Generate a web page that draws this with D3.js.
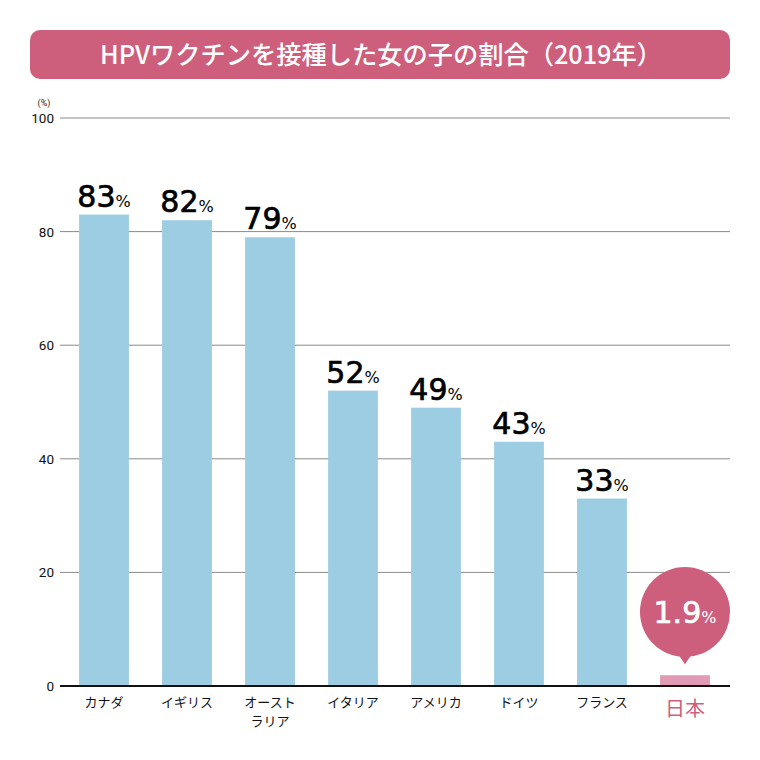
<!DOCTYPE html>
<html>
<head>
<meta charset="utf-8">
<script src="https://cdn.jsdelivr.net/npm/d3@7"></script>
<style>
body { margin: 0; background: #fff; }
</style>
</head>
<body>
<div id="chart-area"></div>
<script>
// data
var countries = ["カナダ", "イギリス", "オースト\nラリア", "イタリア", "アメリカ", "ドイツ", "フランス", "日本"];
var rates = [83, 82, 79, 52, 49, 43, 33, 1.9];
var yTicks = [0, 20, 40, 60, 80, 100];
var titleText = "HPVワクチンを接種した女の子の割合（2019年）";

var W = 760, H = 760;
var pink = "#cd5f7d";
var jpFont = "'Noto Sans CJK JP', 'Noto Sans', sans-serif";
var numFont = "'DejaVu Sans', 'Liberation Sans', sans-serif";
var tickFont = "Roboto, 'Liberation Sans', sans-serif";

var svg = d3.select("#chart-area")
	.append("svg")
		.attr("width", W)
		.attr("height", H)
		.style("font-family", jpFont);

// title banner
svg.append("rect")
	.attr("x", 30).attr("y", 30)
	.attr("width", 700).attr("height", 49)
	.attr("rx", 10)
	.attr("fill", pink);

svg.append("text")
	.attr("x", 381).attr("y", 64)
	.attr("text-anchor", "middle")
	.attr("fill", "#fff")
	.attr("font-size", "25.5px")
	.attr("font-weight", 500)
	.attr("textLength", 562)
	.attr("lengthAdjust", "spacingAndGlyphs")
	.text(titleText);

var x = d3.scaleBand()
	.domain(countries)
	.range([62.5, 726.5])
	.paddingInner(0.4)
	.paddingOuter(0.2);

var y = d3.scaleLinear()
	.domain([0, 100])
	.range([686, 118]);

// grid lines
svg.selectAll(".grid")
	.data(yTicks.filter(function(d){ return d > 0; }))
	.enter().append("line")
		.attr("x1", 60).attr("x2", 730)
		.attr("y1", function(d){ return y(d); })
		.attr("y2", function(d){ return y(d); })
		.attr("stroke", "#8a8a8a")
		.attr("stroke-width", 1);

// y tick labels
svg.selectAll(".ytick")
	.data(yTicks)
	.enter().append("text")
		.attr("x", 54)
		.attr("y", function(d){ return y(d) + 5; })
		.attr("text-anchor", "end")
		.attr("font-size", "13.5px")
		.attr("fill", "#111")
		.style("font-family", tickFont)
		.text(function(d){ return d; });

svg.append("text")
	.attr("x", 44).attr("y", 106)
	.attr("text-anchor", "middle")
	.attr("font-size", "9px")
	.attr("fill", "#222")
	.style("font-family", tickFont)
	.text("(%)");

// bars
svg.selectAll(".bar")
	.data(rates)
	.enter().append("rect")
		.attr("x", function(d, i){ return x(countries[i]); })
		.attr("y", function(d){ return y(d); })
		.attr("width", x.bandwidth())
		.attr("height", function(d){ return y(0) - y(d); })
		.attr("fill", function(d, i){ return i == countries.length - 1 ? "#e09ab3" : "#9dcde2"; });

// baseline
svg.append("line")
	.attr("x1", 60).attr("x2", 730)
	.attr("y1", y(0)).attr("y2", y(0))
	.attr("stroke", "#111")
	.attr("stroke-width", 2);

// value labels (all except Japan)
var labels = svg.selectAll(".val")
	.data(rates.slice(0, rates.length - 1))
	.enter().append("text")
		.attr("x", function(d, i){ return x(countries[i]) + x.bandwidth() / 2; })
		.attr("y", function(d){ return y(d) - 8; })
		.attr("text-anchor", "middle")
		.attr("fill", "#000")
		.style("font-family", numFont);

labels.append("tspan")
	.attr("font-size", "30px")
	.attr("stroke", "#000")
	.attr("stroke-width", 0.7)
	.text(function(d){ return d; });
labels.append("tspan")
	.attr("font-size", "16px")
	.text("%");

// category labels
countries.forEach(function(c, i){
	var isJapan = i == countries.length - 1;
	var lines = c.split("\n");
	var t = svg.append("text")
		.attr("x", x(c) + x.bandwidth() / 2)
		.attr("y", isJapan ? 716 : 707)
		.attr("text-anchor", "middle")
		.attr("font-size", isJapan ? "20px" : "13px")
		.attr("fill", isJapan ? pink : "#111");
	lines.forEach(function(l, j){
		t.append("tspan")
			.attr("x", x(c) + x.bandwidth() / 2)
			.attr("dy", j == 0 ? 0 : 19)
			.text(l);
	});
});

// Japan bubble
var jx = x(countries[7]) + x.bandwidth() / 2;
var jv = rates[7];
var cy = 612, r = 45;
svg.append("path")
	.attr("d", "M" + (jx - 9) + "," + (cy + r - 6) + " L" + jx + "," + (y(jv) - 11) + " L" + (jx + 9) + "," + (cy + r - 6) + " Z")
	.attr("fill", pink);
svg.append("circle")
	.attr("cx", jx).attr("cy", cy)
	.attr("r", r)
	.attr("fill", pink);

var jl = svg.append("text")
	.attr("x", jx).attr("y", cy + 11)
	.attr("text-anchor", "middle")
	.attr("fill", "#fff")
	.style("font-family", numFont);
jl.append("tspan")
	.attr("font-size", "30px")
	.attr("stroke", "#fff")
	.attr("stroke-width", 0.7)
	.text(jv);
jl.append("tspan")
	.attr("font-size", "16px")
	.text("%");
</script>
</body>
</html>
